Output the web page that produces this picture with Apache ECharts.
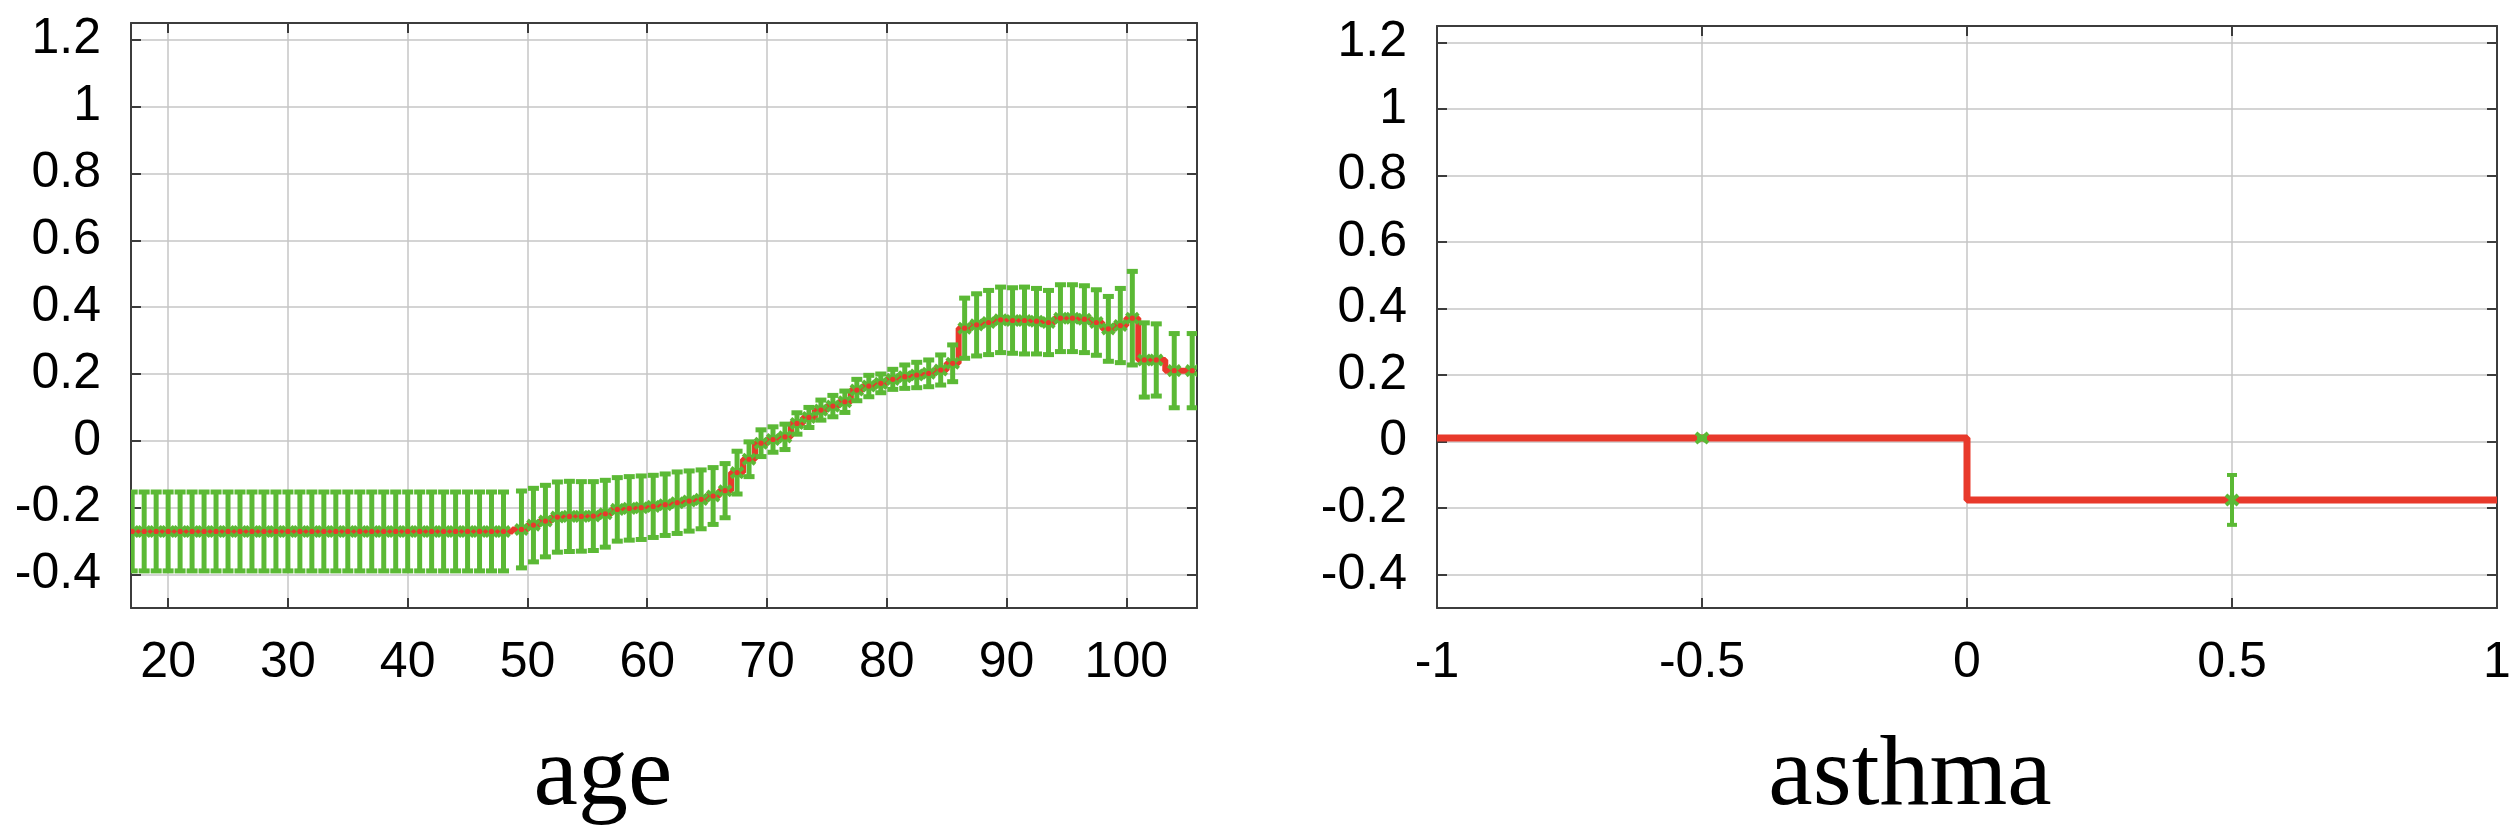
<!DOCTYPE html>
<html>
<head>
<meta charset="utf-8">
<script src="https://cdn.jsdelivr.net/npm/echarts@6/dist/echarts.min.js"></script>
<style>
  html, body { margin: 0; padding: 0; background: #ffffff; }
  #chart { width: 2520px; height: 828px; }
</style>
</head>
<body>
<div id="chart"></div>
<script>
// ---------- data ----------
const ageX = [17,18,19,20,21,22,23,24,25,26,27,28,29,30,31,32,33,34,35,36,37,38,39,40,41,42,43,44,45,46,47,48,
  49.5,50.5,51.5,52.5,53.5,54.5,55.5,56.5,57.5,58.5,59.5,60.5,61.5,62.5,63.5,64.5,65.5,66.5,67.5,68.5,69.5,70.5,
  71.5,72.5,73.5,74.5,75.5,76.5,77.5,78.5,79.5,80.5,81.5,82.5,83.5,84.5,85.5,86.5,87.5,88.5,89.5,90.5,91.5,92.5,
  93.5,94.5,95.5,96.5,97.5,98.5,99.5,100.5,101.5,102.5,104,105.5];
const ageValues = [-0.271,-0.271,-0.271,-0.271,-0.271,-0.271,-0.271,-0.271,-0.271,-0.271,-0.271,-0.271,-0.271,-0.271,-0.271,-0.271,
  -0.271,-0.271,-0.271,-0.271,-0.271,-0.271,-0.271,-0.271,-0.271,-0.271,-0.271,-0.271,-0.271,-0.271,-0.271,-0.271,
  -0.265,-0.252,-0.240,-0.228,-0.226,-0.226,-0.225,-0.218,-0.205,-0.202,-0.200,-0.196,-0.191,-0.185,-0.180,-0.175,-0.165,-0.149,
  -0.095,-0.055,-0.007,0.004,0.012,0.052,0.070,0.092,0.104,0.117,0.152,0.164,0.172,0.184,0.192,0.197,0.202,0.212,0.232,
  0.337,0.347,0.354,0.362,0.360,0.360,0.358,0.354,0.367,0.367,0.364,0.354,0.335,0.345,0.367,0.242,0.242,0.210,0.210];
const ageErrors = [0.118,0.118,0.118,0.118,0.118,0.118,0.118,0.118,0.118,0.118,0.118,0.118,0.118,0.118,0.118,0.118,
  0.118,0.118,0.118,0.118,0.118,0.118,0.118,0.118,0.118,0.118,0.118,0.118,0.118,0.118,0.118,0.118,
  0.115,0.110,0.107,0.105,0.105,0.104,0.103,0.100,0.095,0.095,0.095,0.093,0.092,0.092,0.090,0.088,0.085,0.081,
  0.064,0.052,0.040,0.038,0.038,0.032,0.030,0.030,0.032,0.032,0.032,0.032,0.028,0.030,0.035,0.038,0.040,0.045,0.055,
  0.090,0.093,0.096,0.098,0.098,0.100,0.098,0.096,0.100,0.100,0.100,0.098,0.097,0.111,0.140,0.111,0.108,0.111,0.111];

const asthmaEdges = [-1, 0, 1];
const asthmaValues = [0.011, -0.175];
const asthmaPointX = [-0.5, 0.5];
const asthmaErrors = [0.004, 0.075];

const yTicks = [-0.4,-0.2,0,0.2,0.4,0.6,0.8,1,1.2];
const ageTicks = [20,30,40,50,60,70,80,90,100];
const asthmaTicks = [-1,-0.5,0,0.5,1];
const titles = ['age', 'asthma'];

// ---------- style ----------
const GREEN = '#5bb935';
const RED = '#e8392b';
const FRAME = '#3c3c3c';
const GRIDC = '#c6c6c6';
const FONT = 'Liberation Sans';

const chart = echarts.init(document.getElementById('chart'), null, { renderer: 'canvas' });

function errRender(withDot, stemW, capHalf) {
  return function (params, api) {
    const x = api.value(0), y = api.value(1), e = api.value(2);
    const hi = api.coord([x, y + e]);
    const lo = api.coord([x, y - e]);
    const c = api.coord([x, y]);
    const st = { stroke: GREEN, lineWidth: stemW };
    const children = [
      { type: 'line', shape: { x1: hi[0], y1: hi[1], x2: lo[0], y2: lo[1] }, style: st },
      { type: 'line', shape: { x1: hi[0] - capHalf, y1: hi[1], x2: hi[0] + capHalf, y2: hi[1] }, style: st },
      { type: 'line', shape: { x1: lo[0] - capHalf, y1: lo[1], x2: lo[0] + capHalf, y2: lo[1] }, style: st },
      { type: 'line', shape: { x1: c[0] - 6, y1: c[1] - 5, x2: c[0] + 6, y2: c[1] + 5 }, style: { stroke: GREEN, lineWidth: 4 } },
      { type: 'line', shape: { x1: c[0] - 6, y1: c[1] + 5, x2: c[0] + 6, y2: c[1] - 5 }, style: { stroke: GREEN, lineWidth: 4 } }
    ];
    if (withDot) {
      children.push({ type: 'circle', shape: { cx: c[0], cy: c[1], r: 2.6 }, style: { fill: RED } });
    }
    return { type: 'group', children: children };
  };
}

function xAxisDef(gridIndex, min, max, ticks, pos) {
  const bottom = pos === 'bottom';
  return {
    type: 'value', gridIndex: gridIndex, position: pos, min: min, max: max,
    axisLine: { show: true, onZero: false, lineStyle: { color: FRAME, width: 2 } },
    axisTick: { show: true, inside: true, length: 10, customValues: ticks, lineStyle: { color: FRAME, width: 2 } },
    axisLabel: { show: bottom, customValues: ticks, margin: 30, fontFamily: FONT, fontSize: 50, color: '#000',
      showMinLabel: true, showMaxLabel: true, hideOverlap: false },
    splitLine: { show: bottom, lineStyle: { color: GRIDC, width: 1.5 } }
  };
}
function yAxisDef(gridIndex, pos) {
  const left = pos === 'left';
  return {
    type: 'value', gridIndex: gridIndex, position: pos, min: -0.5, max: 1.25,
    axisLine: { show: true, onZero: false, lineStyle: { color: FRAME, width: 2 } },
    axisTick: { show: true, inside: true, length: 10, customValues: yTicks, lineStyle: { color: FRAME, width: 2 } },
    axisLabel: { show: left, customValues: yTicks, margin: 30, fontFamily: FONT, fontSize: 50, color: '#000',
      showMinLabel: true, showMaxLabel: true, hideOverlap: false },
    splitLine: { show: left, lineStyle: { color: GRIDC, width: 1.5 } }
  };
}

const agePoints = ageX.map((x, i) => [x, ageValues[i], ageErrors[i]]);
const ageLine = ageX.map((x, i) => [x, ageValues[i]]);
const asthmaLine = [[asthmaEdges[0], asthmaValues[0]], [asthmaEdges[1], asthmaValues[1]], [asthmaEdges[2], asthmaValues[1]]];
const asthmaPoints = asthmaPointX.map((x, i) => [x, asthmaValues[i], asthmaErrors[i]]);

const option = {
  backgroundColor: '#ffffff',
  animation: false,
  grid: [
    { left: 131, top: 23, width: 1066, height: 585, containLabel: false },
    { left: 1437, top: 26, width: 1060, height: 582, containLabel: false }
  ],
  xAxis: [
    xAxisDef(0, 16.9, 105.9, ageTicks, 'bottom'),
    xAxisDef(0, 16.9, 105.9, ageTicks, 'top'),
    xAxisDef(1, -1, 1, asthmaTicks, 'bottom'),
    xAxisDef(1, -1, 1, asthmaTicks, 'top')
  ],
  yAxis: [
    yAxisDef(0, 'left'), yAxisDef(0, 'right'),
    yAxisDef(1, 'left'), yAxisDef(1, 'right')
  ],
  graphic: [
    { type: 'text', x: 603, y: 778, style: { text: titles[0], fontFamily: 'Liberation Serif', fontSize: 100, fill: '#000', align: 'center', verticalAlign: 'middle' } },
    { type: 'text', x: 1910, y: 778, style: { text: titles[1], fontFamily: 'Liberation Serif', fontSize: 100, fill: '#000', align: 'center', verticalAlign: 'middle' } }
  ],
  series: [
    { type: 'line', xAxisIndex: 0, yAxisIndex: 0, data: ageLine, step: 'middle', showSymbol: false,
      lineStyle: { color: RED, width: 6 }, z: 2, clip: true },
    { type: 'custom', xAxisIndex: 0, yAxisIndex: 0, data: agePoints, renderItem: errRender(true, 5, 5.5), z: 3, clip: true,
      encode: { x: 0, y: 1 } },
    { type: 'line', xAxisIndex: 2, yAxisIndex: 2, data: asthmaLine, step: 'end', showSymbol: false,
      lineStyle: { color: RED, width: 7 }, z: 2, clip: true },
    { type: 'custom', xAxisIndex: 2, yAxisIndex: 2, data: asthmaPoints, renderItem: errRender(false, 4, 5), z: 3, clip: true,
      encode: { x: 0, y: 1 } }
  ]
};
chart.setOption(option);
</script>
</body>
</html>
